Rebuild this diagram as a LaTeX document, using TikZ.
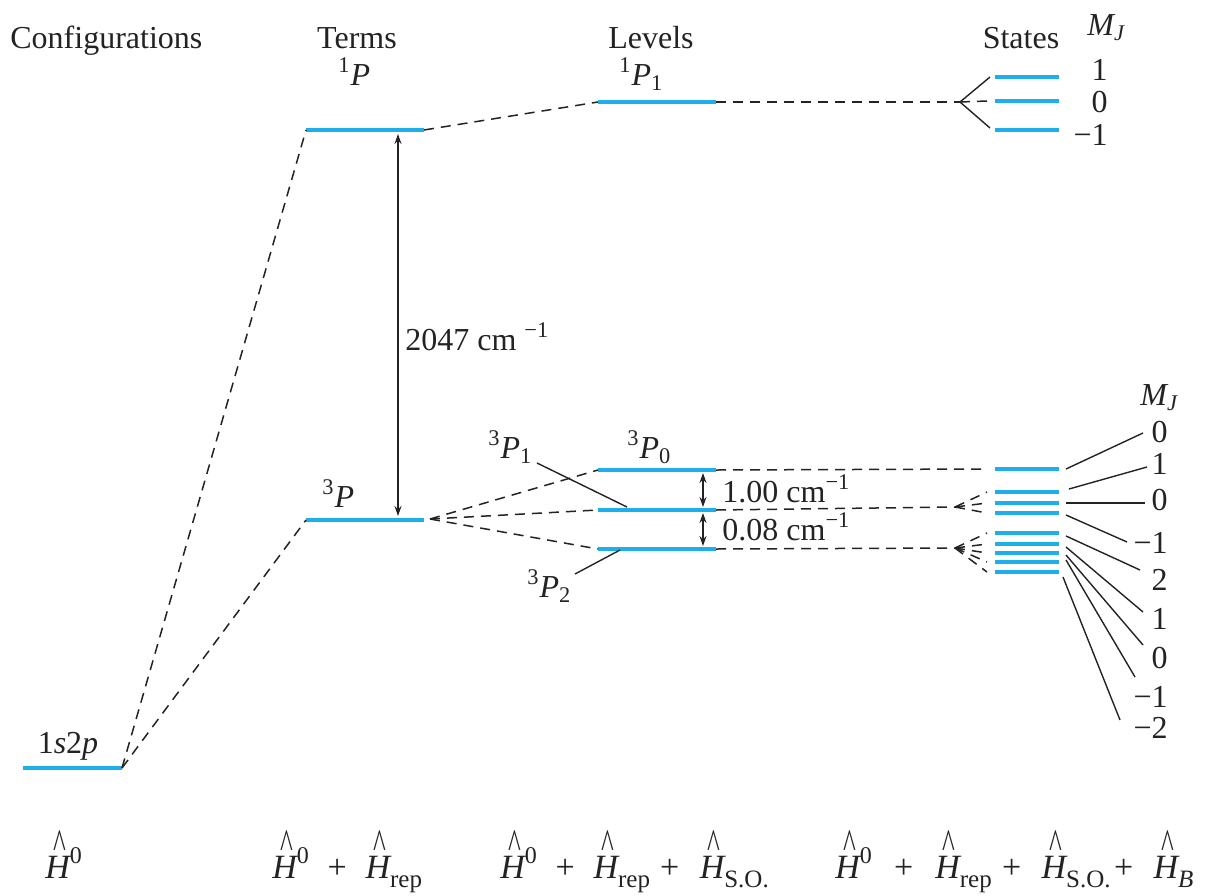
\documentclass[tikz,border=0pt]{standalone}
\usepackage{fontspec}
\setmainfont{Liberation Serif}
\usetikzlibrary{arrows.meta,calc}
\definecolor{lvlblue}{RGB}{30,175,235}
\definecolor{ink}{RGB}{35,35,35}
\newcommand\ip[1]{{\itshape #1}}
% H with a tall caret hat
\newcommand\Hh{{\itshape H}\hspace{-0.31em}\makebox[0pt]{\raisebox{0.58em}{\scalebox{0.8}[1.25]{\textasciicircum}}}\hspace{0.31em}}
\newcommand\hsub[1]{\raisebox{-0.27em}{\fontsize{12.5}{14}\selectfont #1}}
\newcommand\hsup[1]{\raisebox{0.42em}{\fontsize{12}{14}\selectfont #1}}
\newcommand\hsp{\hspace{0.55em}}
\begin{document}
\begin{tikzpicture}[x=0.5pt,y=-0.5pt,
  levelline/.style={draw=lvlblue, line width=2pt},
  dsh/.style={draw=ink, line width=0.75pt, dash pattern=on 5pt off 3.5pt},
  lead/.style={draw=ink, line width=0.7pt},
  txt/.style={font=\fontsize{16}{19}\selectfont, text=ink, inner sep=0pt},
  hamtxt/.style={font=\fontsize{17}{20}\selectfont, text=ink, inner sep=0pt},
  dim/.style={draw=ink, line width=0.7pt, {Stealth[length=5pt,width=3.5pt]}-{Stealth[length=5pt,width=3.5pt]}}
]
\useasboundingbox (0,0) rectangle (1205,895);

% ---------- levels ----------
\coordinate (c1L) at (23,768);  \coordinate (c1R) at (122,768);
\coordinate (t1L) at (306,130); \coordinate (t1R) at (424,130);
\coordinate (t3L) at (306,520); \coordinate (t3R) at (424,520);
\coordinate (l1L) at (598,102); \coordinate (l1R) at (716,102);
\coordinate (p0L) at (598,470); \coordinate (p0R) at (716,470);
\coordinate (p1L) at (598,510); \coordinate (p1R) at (716,510);
\coordinate (p2L) at (598,549); \coordinate (p2R) at (716,549);
\foreach \n/\y in {a/77,b/101,c/130}{
  \coordinate (s\n L) at (995,\y); \coordinate (s\n R) at (1059,\y);
  \draw[levelline] (s\n L) -- (s\n R);
}
\foreach \n/\y in {1/469,2/492,3/503,4/513,5/533,6/544,7/553,8/562,9/572}{
  \coordinate (u\n L) at (995,\y); \coordinate (u\n R) at (1059,\y);
  \draw[levelline] (u\n L) -- (u\n R);
}
\foreach \a/\b in {c1L/c1R,t1L/t1R,t3L/t3R,l1L/l1R,p0L/p0R,p1L/p1R,p2L/p2R}
  \draw[levelline] (\a) -- (\b);

% ---------- correlation lines ----------
\draw[dsh] (c1R) -- (t1L);
\draw[dsh] (c1R) -- (t3L);
\draw[dsh] (t1R) -- (l1L);
\coordinate (fanT) at (430,519);
\draw[dsh] (fanT) -- (p0L);
\draw[dsh] (fanT) -- (p1L);
\draw[dsh] (fanT) -- (p2L);

\coordinate (fanA) at (960,102);
\draw[dsh] (l1R) -- (fanA);
\draw[lead] (fanA) -- ($(saL)+(-5,0)$);
\draw[lead] (fanA) -- ($(scL)+(-5,-2)$);
\draw[dsh] (fanA) -- ($(sbL)+(-8,0)$);

\draw[dsh] (p0R) -- ($(u1L)+(-8,0)$);
\coordinate (fanB) at (955,507);
\draw[dsh] (p1R) -- (fanB);
\foreach \k in {2,3,4} \draw[dsh] (fanB) -- ($(u\k L)+(-8,0)$);
\coordinate (fanC) at (955,548);
\draw[dsh] (p2R) -- (fanC);
\foreach \k in {5,6,7,8,9} \draw[dsh] (fanC) -- ($(u\k L)+(-8,0)$);

% ---------- splittings ----------
\coordinate (arA) at (398,134); \coordinate (arB) at (398,516);
\draw[dim] (arA) -- (arB);
\coordinate (d1A) at (703,473); \coordinate (d1B) at (703,507);
\coordinate (d2A) at (703,513); \coordinate (d2B) at (703,546);
\draw[dim] (d1A) -- (d1B);
\draw[dim] (d2A) -- (d2B);

% ---------- headings ----------
\node[txt, anchor=base west] (hConf) at (10,48) {Configurations};
\node[txt, anchor=base] (hTerms) at (357,48) {Terms};
\node[txt, anchor=base] (hLevels) at (651,48) {Levels};
\node[txt, anchor=base] (hStates) at (1021,48) {States};
\node[txt, anchor=base west] (hMJa) at (1087,35) {\ip{M}\textsubscript{\ip{J}}};
\node[txt, anchor=base west] (hMJb) at (1140,405) {\ip{M}\textsubscript{\ip{J}}};

% ---------- level labels ----------
\node[txt, anchor=base] (lab1s2p) at (68,753) {1\ip{s}2\ip{p}};
\node[txt, anchor=base west] (lab1P) at (338,85) {\textsuperscript{1}\ip{P}};
\node[txt, anchor=base west] (lab3P) at (322,507) {\textsuperscript{3}\ip{P}};
\node[txt, anchor=base west] (lab1P1) at (619,85) {\textsuperscript{1}\ip{P}\textsubscript{1}};
\node[txt, anchor=base west] (lab3P0) at (627,458) {\textsuperscript{3}\ip{P}\textsubscript{0}};
\node[txt, anchor=base west] (lab3P1) at (488,458) {\textsuperscript{3}\ip{P}\textsubscript{1}};
\node[txt, anchor=base west] (lab3P2) at (527,597) {\textsuperscript{3}\ip{P}\textsubscript{2}};
\coordinate (q1A) at (537,463); \coordinate (q1B) at (627,507);
\coordinate (q2A) at (575,574); \coordinate (q2B) at (620,550);
\draw[lead] (q1A) -- (q1B);
\draw[lead] (q2A) -- (q2B);

\node[txt, anchor=base west] (lab2047) at (405,350) {2047 cm \textsuperscript{−1}};
\node[txt, anchor=base west] (lab100) at (722,502) {1.00 cm\textsuperscript{−1}};
\node[txt, anchor=base west] (lab008) at (722,540) {0.08 cm\textsuperscript{−1}};

% ---------- M_J values ----------
\node[txt, anchor=base east] (ma1) at (1108,80) {1};
\node[txt, anchor=base east] (ma2) at (1108,112) {0};
\node[txt, anchor=base east] (ma3) at (1108,145) {−1};
\foreach \n/\y/\t in {1/442/0,2/474/1,3/510/0,4/553/−1,5/590/2,6/629/1,7/668/0,8/707/−1,9/738/−2}
  \node[txt, anchor=base east] (mb\n) at (1168,\y) {\t};

\foreach \n/\xa/\ya/\xb/\yb in {1/1066/469/1143/433, 2/1069/489/1147/467, 3/1066/503/1145/503,
   4/1066/515/1127/542, 5/1066/536/1140/570, 6/1066/547/1143/612, 7/1066/555/1143/645,
   8/1066/560/1135/677, 9/1063/577/1120/720}{
  \coordinate (la\n) at (\xa,\ya); \coordinate (lb\n) at (\xb,\yb);
  \draw[lead] (la\n) -- (lb\n);
}

% ---------- Hamiltonians ----------
\node[hamtxt, anchor=base west] (ham0) at (45,878) {\Hh\hsup{0}};
\node[hamtxt, anchor=base west] (ham1) at (272,878) {\Hh\hsup{0}\hsp+\hsp\Hh\hsub{rep}};
\node[hamtxt, anchor=base west] (ham2) at (500,878) {\Hh\hsup{0}\hsp+\hsp\Hh\hsub{rep}\hspace{0.3em}+\hspace{0.6em}\Hh\hsub{S.O.}};
\node[hamtxt, anchor=base west] (ham3) at (835,878) {\Hh\hsup{0}\hspace{0.65em}+\hspace{0.65em}\Hh\hsub{rep}\hspace{0.3em}+\hspace{0.6em}\Hh\hsub{S.O.}\hspace{0.1em}+\hspace{0.6em}\Hh\hsub{\ip{B}}};
\end{tikzpicture}
\end{document}
